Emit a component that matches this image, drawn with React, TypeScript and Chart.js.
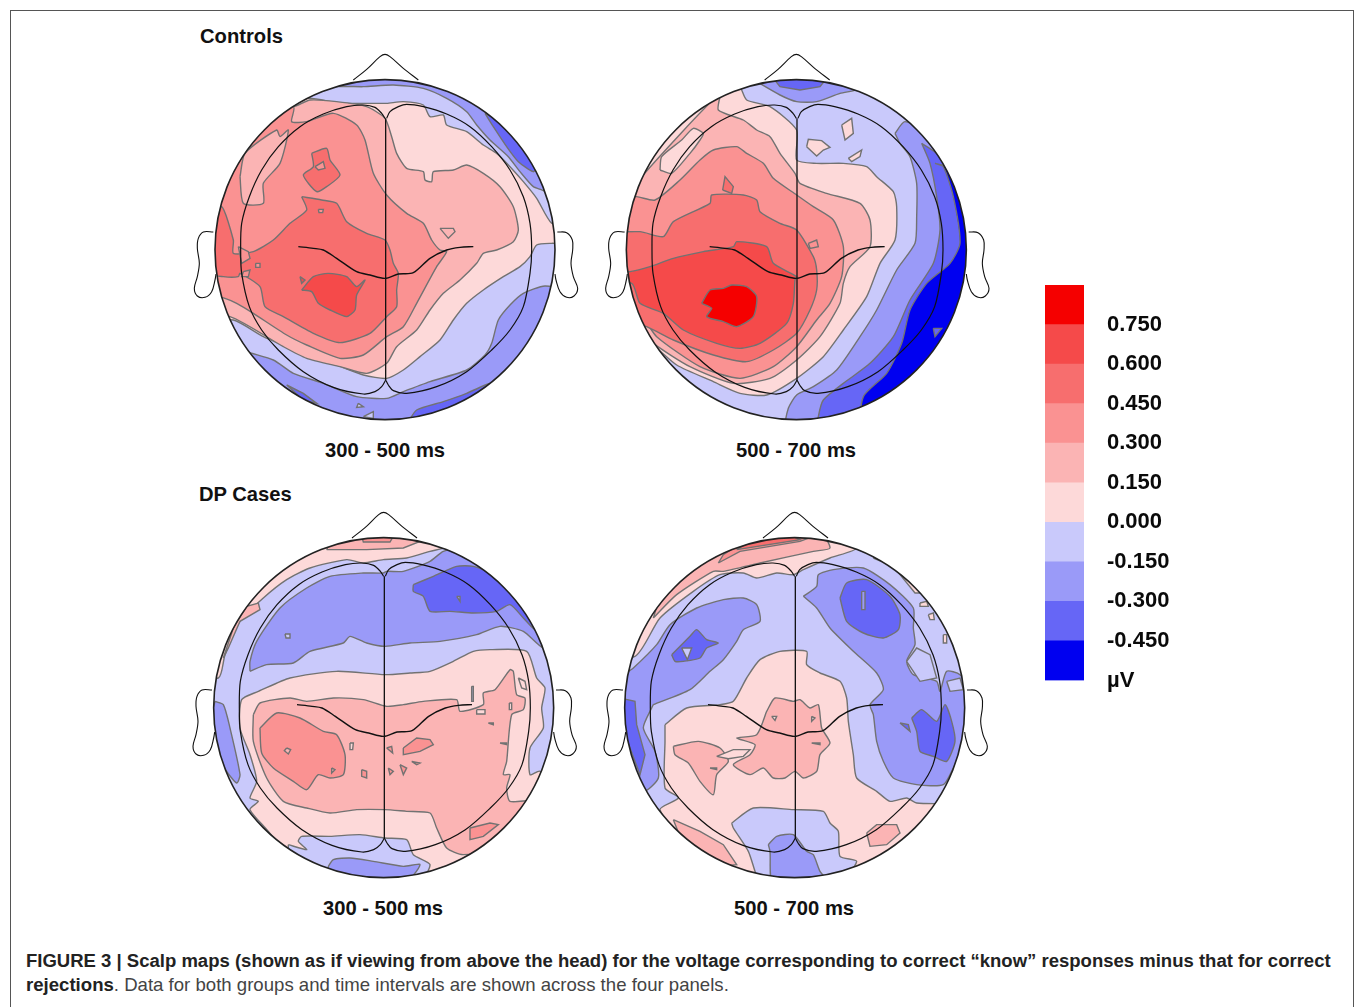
import React, { useEffect, useRef } from "react";
import { Chart, registerables } from "chart.js";

type Region = [number, number[]];

const levelColors = ["#0000f0", "#6666f6", "#9a9af8", "#c9c9fb", "#fdd9d9", "#fbb4b4", "#fa9292", "#f76e6e", "#f54a4a", "#f50000"];
const bandLower = [-0.6, -0.45, -0.3, -0.15, 0, 0.15, 0.3, 0.45, 0.6, 0.75];
const bandUpper = [-0.45, -0.3, -0.15, 0, 0.15, 0.3, 0.45, 0.6, 0.75, 0.9];
const tickValues = [0.9, 0.75, 0.6, 0.45, 0.3, 0.15, 0, -0.15, -0.3, -0.45, -0.6];
const tickLabels = ["", "0.750", "0.600", "0.450", "0.300", "0.150", "0.000", "-0.150", "-0.300", "-0.450", "µV"];

const nose = [-95, -509, -55, -541, -15, -579, 0, -586, 15, -579, 55, -544, 100, -509];
const earLeft = [-515, -53, -545, -53, -560, -34, -563, -4, -557, 41, -563, 81, -572, 116, -563, 139, -540, 143, -520, 126, -510, 91, -507, 73];
const earRight = [517, -53, 545, -51, 562, -29, 563, 1, 558, 41, 565, 81, 578, 116, 567, 139, 545, 143, 525, 126, 513, 91, 510, 73];
const lobeLeft = [0, -394, -10, -409, -30, -427, -65, -434, -115, -429, -185, -407, -255, -369, -320, -309, -370, -239, -407, -159, -430, -79, -433, 1, -430, 71, -407, 171, -370, 241, -320, 301, -245, 366, -155, 413, -65, 433, -30, 426, -10, 411, 2, 391];
const lobeRight = [5, -394, 15, -414, 40, -429, 65, -436, 115, -429, 185, -407, 255, -369, 320, -309, 375, -239, 415, -159, 435, -79, 440, 1, 435, 71, 415, 171, 375, 241, 320, 301, 245, 366, 155, 411, 65, 431, 25, 423, 10, 406, 2, 391];
const midline = [2, -394, 2, 391];
const earLine = [-260, -9, -215, -4, -185, 1, -145, 26, -85, 66, -45, 76, 0, 86, 40, 73, 85, 69, 135, 26, 185, 1, 225, -7, 265, -9];

const headRadius = 510;

const controlsEarly: Region[] = [
  [2, [-100, -100, 1300, -100, 1300, 1300, -100, 1300]],
  [1, [885, 190, 930, 215, 985, 265, 1040, 350, 1030, 365, 985, 335, 950, 290, 910, 230]],
  [1, [290, 1005, 340, 1030, 380, 1060, 340, 1050]],
  [1, [655, 1115, 680, 1080, 760, 1055, 830, 1030, 900, 1000, 840, 1050, 760, 1090, 690, 1115]],
  [3, [-50, 300, 300, 170, 385, 125, 440, 110, 520, 110, 610, 105, 700, 115, 770, 145, 830, 185, 860, 225, 900, 270, 955, 320, 990, 365, 1030, 410, 1065, 425, 1090, 480, 1200, 450, 1200, 720, 1065, 708, 1000, 730, 960, 765, 925, 810, 905, 880, 885, 915, 830, 960, 720, 995, 640, 1025, 590, 1045, 500, 1040, 400, 1000, 310, 970, 250, 930, 170, 905, -50, 820]],
  [3, [505, 1060, 520, 1070, 500, 1072]],
  [3, [520, 1100, 550, 1085, 550, 1105]],
  [4, [-50, 250, 280, 170, 355, 145, 450, 160, 540, 160, 590, 160, 640, 155, 700, 165, 720, 200, 760, 195, 770, 225, 830, 245, 880, 285, 920, 310, 960, 350, 1000, 395, 1040, 445, 1085, 520, 1150, 540, 1150, 580, 1085, 580, 1040, 585, 1020, 620, 990, 650, 940, 680, 880, 720, 830, 760, 790, 810, 750, 870, 690, 920, 640, 960, 590, 985, 520, 975, 440, 945, 350, 920, 290, 890, 220, 860, 130, 810, -50, 800]],
  [5, [-50, 200, 310, 170, 360, 150, 440, 155, 530, 170, 585, 205, 605, 260, 620, 310, 650, 355, 700, 365, 705, 390, 725, 395, 730, 365, 790, 360, 830, 345, 880, 370, 930, 410, 970, 470, 985, 540, 970, 575, 920, 600, 880, 610, 860, 640, 810, 690, 760, 730, 720, 780, 680, 840, 620, 890, 590, 940, 530, 970, 450, 950, 350, 925, 280, 890, 120, 800, -50, 780]],
  [6, [-50, 100, 310, 170, 305, 215, 350, 215, 430, 190, 500, 225, 525, 270, 550, 370, 590, 435, 650, 490, 700, 520, 725, 570, 750, 600, 770, 605, 740, 650, 680, 760, 640, 830, 590, 860, 520, 915, 450, 925, 350, 885, 290, 855, 190, 790, 140, 760, 105, 745, -50, 700]],
  [5, [150, 380, 165, 310, 260, 240, 270, 260, 295, 240, 270, 340, 220, 400, 220, 460, 160, 460]],
  [5, [750, 535, 790, 535, 795, 545, 775, 565]],
  [7, [335, 440, 395, 450, 440, 460, 470, 515, 530, 550, 585, 570, 600, 600, 610, 640, 625, 670, 620, 720, 620, 770, 590, 800, 540, 850, 450, 878, 370, 850, 280, 800, 225, 770, 210, 710, 150, 670, 145, 680, 100, 680, 60, 670, 60, 530, 95, 470, 130, 570, 130, 610, 190, 605, 250, 570, 300, 520, 350, 480]],
  [6, [145, 590, 175, 605, 180, 625, 155, 640]],
  [6, [197, 640, 210, 640, 210, 652, 197, 652]],
  [6, [160, 665, 180, 660, 175, 680, 155, 680]],
  [6, [385, 478, 400, 478, 398, 488, 387, 488]],
  [7, [365, 310, 410, 295, 420, 330, 450, 375, 410, 410, 380, 425, 340, 375, 370, 350]],
  [6, [375, 350, 400, 335, 405, 355, 385, 360]],
  [8, [335, 720, 370, 680, 415, 670, 470, 680, 500, 710, 525, 690, 500, 735, 495, 780, 470, 800, 420, 780, 385, 760, 365, 725]],
  [8, [330, 680, 345, 690, 335, 700]],
];

const controlsLate: Region[] = [
  [3, [-100, -100, 1300, -100, 1300, 1300, -100, 1300]],
  [2, [470, 95, 540, 135, 590, 155, 650, 155, 720, 130, 780, 115, 700, 60, 500, 60]],
  [1, [520, 85, 680, 85, 660, 110, 600, 120, 540, 110]],
  [2, [885, 250, 915, 215, 1000, 260, 1200, 500, 1200, 900, 900, 1130, 560, 1130, 565, 1075, 590, 1035, 640, 1010, 710, 960, 780, 860, 830, 780, 890, 660, 945, 580, 950, 500, 950, 400, 930, 320, 900, 280]],
  [1, [965, 280, 1010, 310, 1200, 500, 1200, 900, 900, 1130, 655, 1130, 655, 1100, 670, 1050, 730, 1000, 810, 940, 880, 860, 930, 750, 1000, 640, 1020, 540, 1010, 440, 990, 340]],
  [0, [1005, 340, 1030, 350, 1060, 440, 1080, 580, 1050, 640, 980, 700, 930, 780, 905, 880, 860, 970, 790, 1040, 790, 1130, 1200, 1000, 1200, 400]],
  [1, [1000, 835, 1025, 835, 1005, 860]],
  [4, [-50, 300, 400, 100, 420, 110, 440, 150, 510, 170, 590, 240, 590, 330, 650, 340, 730, 340, 800, 350, 830, 380, 880, 425, 890, 470, 885, 570, 840, 640, 800, 740, 730, 840, 670, 920, 590, 985, 500, 1035, 420, 1030, 340, 995, 230, 945, 150, 880, -50, 800]],
  [5, [-50, 430, 100, 430, 125, 380, 360, 130, 355, 180, 430, 210, 470, 240, 510, 260, 540, 310, 585, 370, 600, 400, 680, 430, 780, 460, 810, 510, 810, 590, 750, 650, 730, 700, 720, 760, 660, 860, 590, 930, 510, 985, 400, 1000, 270, 950, 160, 880, 110, 830, -50, 800]],
  [4, [180, 360, 185, 320, 245, 270, 280, 235, 310, 250, 300, 270, 270, 310, 215, 370]],
  [6, [-50, 440, 110, 440, 165, 450, 240, 390, 300, 330, 340, 300, 410, 290, 440, 310, 490, 340, 520, 385, 590, 435, 640, 470, 700, 510, 730, 590, 725, 680, 690, 760, 650, 810, 590, 890, 520, 950, 420, 985, 300, 950, 170, 860, 125, 800, -50, 700]],
  [7, [-50, 550, 120, 545, 190, 560, 220, 515, 330, 460, 335, 435, 430, 435, 470, 450, 480, 485, 540, 520, 590, 540, 640, 620, 650, 660, 650, 720, 630, 780, 590, 850, 520, 900, 440, 935, 340, 915, 220, 870, 140, 830, -50, 760]],
  [6, [625, 580, 650, 570, 655, 590, 630, 595]],
  [8, [-50, 680, 90, 665, 150, 650, 220, 625, 310, 605, 400, 590, 410, 575, 500, 590, 520, 640, 590, 680, 585, 690, 580, 760, 560, 820, 480, 880, 420, 895, 350, 880, 250, 840, 190, 790, 120, 760, 95, 700]],
  [7, [368, 420, 375, 380, 400, 410, 395, 430]],
  [9, [305, 760, 330, 720, 370, 715, 395, 705, 440, 710, 470, 740, 460, 800, 410, 830, 370, 815, 320, 800, 335, 775]],
  [4, [725, 225, 755, 205, 760, 250, 735, 270]],
  [4, [745, 325, 785, 300, 780, 320, 755, 335]],
  [4, [620, 290, 625, 268, 665, 272, 690, 292, 670, 300, 650, 318]],
];

const casesEarly: Region[] = [
  [3, [-100, -100, 1300, -100, 1300, 1300, -100, 1300]],
  [4, [-50, 500, 85, 510, 105, 440, 150, 340, 220, 270, 290, 215, 360, 180, 470, 155, 520, 165, 580, 155, 650, 150, 720, 130, 770, 115, 700, 60, 400, 60, -50, 300]],
  [5, [410, 125, 530, 125, 640, 120, 690, 100, 600, 80, 420, 100]],
  [6, [515, 85, 610, 85, 600, 102, 520, 102]],
  [5, [100, 450, 130, 360, 170, 295, 205, 285, 210, 305, 150, 340, 115, 420]],
  [2, [180, 490, 180, 460, 200, 400, 270, 300, 350, 240, 420, 205, 520, 195, 580, 195, 590, 190, 640, 190, 720, 160, 760, 130, 830, 115, 900, 150, 1100, 400, 1060, 420, 1000, 370, 930, 355, 860, 380, 750, 400, 660, 405, 585, 415, 530, 405, 480, 385, 460, 405, 360, 430, 310, 465, 230, 470]],
  [3, [285, 378, 300, 378, 300, 390, 288, 390]],
  [1, [670, 230, 730, 205, 800, 175, 850, 175, 900, 195, 1010, 300, 1040, 370, 1000, 330, 960, 290, 920, 310, 850, 315, 780, 310, 720, 310, 700, 265, 670, 250]],
  [2, [800, 265, 810, 265, 810, 280]],
  [2, [75, 580, 100, 590, 120, 660, 150, 800, 140, 825, 110, 790, 60, 700, 60, 640]],
  [4, [205, 550, 300, 510, 440, 490, 585, 500, 660, 495, 720, 490, 790, 460, 850, 430, 900, 425, 1010, 430, 1040, 510, 1065, 540, 1055, 600, 1060, 660, 1020, 720, 1020, 800, 1050, 790, 1100, 880, 770, 1130, 300, 1130, 250, 990, 180, 905, 205, 880, 180, 870, 200, 820, 180, 740, 150, 660, 155, 575]],
  [3, [845, 535, 850, 535, 850, 580, 845, 580]],
  [3, [295, 1010, 350, 1025, 325, 1000, 335, 985, 420, 985, 510, 980, 585, 990, 650, 995, 670, 1040, 720, 1070, 680, 1130, 300, 1130]],
  [2, [415, 1075, 430, 1055, 480, 1050, 550, 1060, 640, 1075, 690, 1070, 640, 1130, 480, 1130, 415, 1090]],
  [5, [190, 620, 210, 585, 300, 570, 350, 580, 430, 570, 520, 575, 590, 595, 640, 590, 700, 580, 800, 575, 810, 610, 880, 590, 880, 555, 915, 545, 960, 485, 970, 490, 980, 560, 1005, 570, 1000, 605, 965, 620, 950, 760, 940, 800, 960, 800, 950, 840, 960, 880, 1040, 880, 960, 1010, 820, 1040, 770, 1020, 740, 960, 720, 915, 650, 910, 585, 905, 500, 905, 420, 915, 350, 900, 280, 880, 230, 810, 190, 700]],
  [4, [985, 510, 1005, 520, 1010, 545, 995, 540]],
  [4, [860, 605, 885, 605, 885, 618, 860, 618]],
  [4, [895, 645, 910, 645, 910, 650]],
  [4, [930, 705, 950, 705, 950, 710]],
  [4, [958, 585, 965, 585, 965, 605, 958, 605]],
  [4, [480, 705, 490, 705, 488, 725, 480, 725]],
  [6, [210, 660, 260, 615, 330, 630, 400, 670, 440, 680, 465, 740, 460, 800, 420, 810, 385, 800, 350, 845, 310, 820, 250, 780, 215, 735]],
  [5, [290, 720, 302, 725, 295, 738, 283, 728]],
  [5, [425, 780, 435, 785, 425, 795]],
  [6, [640, 720, 680, 690, 720, 695, 730, 710, 690, 730, 640, 740]],
  [6, [840, 960, 900, 945, 925, 950, 880, 985, 840, 995]],
  [6, [590, 720, 605, 715, 608, 735]],
  [6, [595, 780, 610, 790, 600, 800]],
  [6, [630, 770, 650, 780, 640, 800]],
  [6, [665, 760, 690, 765, 680, 770]],
  [6, [515, 785, 530, 790, 530, 810, 515, 805]],
];

const casesLate: Region[] = [
  [3, [-100, -100, 1300, -100, 1300, 1300, -100, 1300]],
  [4, [-50, 440, 105, 445, 180, 330, 280, 250, 360, 200, 430, 195, 470, 210, 530, 195, 580, 200, 610, 185, 690, 150, 770, 120, 700, 60, 300, 60]],
  [4, [820, 150, 880, 175, 945, 255, 960, 255, 900, 160]],
  [5, [160, 330, 230, 260, 340, 190, 370, 190, 480, 165, 640, 130, 690, 120, 650, 60, 450, 60, 200, 220]],
  [6, [355, 165, 420, 130, 600, 100, 640, 85, 480, 70, 370, 140]],
  [7, [410, 125, 600, 95, 540, 70, 470, 90]],
  [4, [195, 650, 260, 600, 360, 590, 400, 580, 440, 510, 480, 455, 540, 430, 620, 430, 620, 470, 660, 495, 720, 520, 740, 570, 745, 640, 760, 740, 770, 810, 830, 850, 870, 880, 920, 870, 950, 885, 1100, 900, 980, 1130, 470, 1130, 300, 1050, 180, 905, 235, 870, 195, 840, 195, 700]],
  [5, [220, 935, 300, 970, 370, 1010, 410, 1070, 350, 1075, 250, 1010]],
  [3, [395, 945, 460, 900, 580, 905, 670, 910, 690, 945, 715, 970, 720, 1045, 770, 1060, 710, 1130, 480, 1130, 465, 1090, 445, 1030, 400, 960]],
  [2, [505, 1010, 530, 985, 580, 980, 620, 1030, 640, 1040, 660, 1090, 690, 1130, 520, 1130, 510, 1030]],
  [2, [160, 590, 270, 545, 330, 490, 370, 455, 410, 400, 430, 365, 480, 340, 470, 290, 430, 270, 370, 275, 290, 300, 210, 350, 170, 410, 100, 480, 50, 520, 50, 760, 130, 850, 175, 810, 165, 730, 130, 660, 155, 600]],
  [1, [60, 570, 105, 580, 110, 650, 135, 740, 120, 800, 90, 720, 60, 640]],
  [1, [215, 440, 270, 385, 290, 365, 320, 395, 355, 405, 320, 420, 300, 450, 250, 460, 225, 460]],
  [3, [245, 420, 275, 420, 262, 455]],
  [2, [610, 265, 650, 235, 655, 200, 700, 185, 790, 180, 870, 230, 940, 300, 940, 360, 945, 410, 920, 460, 940, 500, 1010, 520, 1020, 550, 1040, 490, 1080, 500, 1120, 560, 1120, 680, 1060, 780, 1030, 830, 950, 830, 880, 810, 850, 760, 830, 700, 820, 620, 810, 590, 850, 545, 830, 495, 760, 430, 690, 360, 650, 300]],
  [3, [1040, 520, 1080, 510, 1090, 545, 1050, 550]],
  [1, [720, 270, 740, 225, 800, 215, 870, 265, 900, 320, 895, 365, 850, 390, 790, 375, 740, 340]],
  [2, [785, 250, 795, 250, 795, 305, 785, 305]],
  [1, [935, 630, 965, 605, 1010, 640, 1035, 590, 1055, 640, 1065, 700, 1040, 760, 1000, 745, 960, 730, 950, 670]],
  [1, [900, 645, 925, 650, 930, 670]],
  [5, [500, 610, 525, 570, 580, 580, 600, 575, 630, 600, 655, 590, 665, 660, 690, 705, 660, 740, 650, 790, 610, 810, 585, 790, 555, 810, 520, 810, 490, 780, 450, 800, 400, 770, 450, 740, 465, 710, 410, 690, 470, 680]],
  [4, [515, 625, 530, 625, 525, 637]],
  [4, [635, 625, 645, 630, 635, 640]],
  [4, [635, 705, 660, 705, 660, 710]],
  [5, [220, 715, 295, 700, 360, 720, 385, 760, 350, 800, 340, 860, 300, 820, 265, 765, 225, 740]],
  [4, [350, 745, 400, 725, 450, 725, 430, 745, 385, 752]],
  [4, [330, 780, 350, 780, 350, 785]],
  [5, [800, 975, 830, 950, 890, 950, 900, 975, 860, 1010, 810, 1015]],
  [3, [920, 460, 950, 420, 990, 440, 1010, 510, 960, 520]],
  [4, [960, 285, 980, 280, 985, 295, 960, 295]],
  [4, [985, 320, 1000, 315, 1003, 335, 990, 335]],
  [4, [1030, 380, 1040, 380, 1040, 405, 1030, 405]],
];

const scalpClip = {
  id: "scalpClip",
  beforeDatasetDraw(chart: any, args: any) {
    const head = chart.data.datasets[args.index].head;
    if (!head) return;
    const { x, y } = chart.scales;
    const ctx = chart.ctx;
    ctx.save();
    ctx.beginPath();
    ctx.arc(x.getPixelForValue(head[0]), y.getPixelForValue(head[1]), x.getPixelForValue(head[0] + headRadius) - x.getPixelForValue(head[0]), 0, Math.PI * 2);
    ctx.clip();
  },
  afterDatasetDraw(chart: any, args: any) {
    if (chart.data.datasets[args.index].head) chart.ctx.restore();
  },
};

// Registered before the library's plugins so the clip is active when the filler paints.
Chart.register(scalpClip as any);
Chart.register(...registerables);

const toPoints = (flat: number[], dx = 0, dy = 0) => {
  const out: { x: number; y: number }[] = [];
  for (let i = 0; i < flat.length; i += 2) out.push({ x: flat[i] + dx, y: flat[i + 1] + dy });
  return out;
};

function Panel({ regions, center, left, top }: { regions: Region[]; center: number[]; left: number; top: number }) {
  const ref = useRef<HTMLCanvasElement>(null);
  useEffect(() => {
    const [cx, cy] = center;
    const fills = regions.map(([level, flat]) => {
      const pts = toPoints(flat);
      pts.push(pts[0]);
      return {
        data: pts,
        showLine: true,
        fill: "shape",
        backgroundColor: levelColors[level],
        borderColor: "#727272",
        borderWidth: 1.4,
        pointRadius: 0,
        tension: pts.length > 8 ? 0.22 : 0,
        head: center,
      };
    });
    const outline = (flat: number[], tension = 0.35, width = 1.1) => ({
      data: toPoints(flat, cx, cy),
      showLine: true,
      fill: false,
      borderColor: "#111111",
      borderWidth: width,
      pointRadius: 0,
      tension,
    });
    const all: any[] = [
      ...fills,
      outline(lobeLeft, 0.3, 1.2),
      outline(lobeRight, 0.3, 1.2),
      outline(midline, 0, 1.3),
      outline(earLine, 0.3, 1.4),
      outline(nose),
      outline(earLeft),
      outline(earRight),
      {
        data: [{ x: cx, y: cy }],
        showLine: false,
        pointRadius: headRadius / 3,
        pointHoverRadius: headRadius / 3,
        pointBackgroundColor: "rgba(0,0,0,0)",
        pointBorderColor: "#222222",
        pointBorderWidth: 1.6,
        clip: false,
      },
    ];
    all.forEach((d, i) => (d.order = all.length - i));
    const chart = new Chart(ref.current!, {
      type: "scatter",
      data: { datasets: all },
      options: {
        animation: false,
        responsive: false,
        events: [],
        layout: { padding: 0, autoPadding: false },
        plugins: { legend: { display: false }, tooltip: { enabled: false } },
        scales: {
          x: { type: "linear", display: false, min: 0, max: 1185 },
          y: { type: "linear", display: false, min: 0, max: 1125, reverse: true },
        },
      },
    } as any);
    return () => chart.destroy();
  }, [regions, center]);
  return <canvas ref={ref} width={395} height={375} style={{ position: "absolute", left, top, width: 395, height: 375, filter: "blur(0.4px)" }} />;
}

function ColorBar() {
  const ref = useRef<HTMLCanvasElement>(null);
  useEffect(() => {
    const chart = new Chart(ref.current!, {
      type: "bar",
      data: {
        labels: ["µV"],
        datasets: bandLower.map((low, i) => ({
          data: [[low, bandUpper[i]]],
          backgroundColor: levelColors[i],
          borderWidth: 0,
          barPercentage: 1,
          categoryPercentage: 1,
          grouped: false,
        })),
      },
      options: {
        animation: false,
        responsive: false,
        events: [],
        layout: { autoPadding: false, padding: { top: 15, bottom: 19.5, left: 0, right: 0 } },
        plugins: { legend: { display: false }, tooltip: { enabled: false } },
        scales: {
          x: { display: false, offset: true },
          y: {
            position: "right",
            min: -0.6,
            max: 0.9,
            grid: { display: false, drawTicks: false },
            border: { display: false },
            afterFit: (s: any) => {
              s.width = 106;
              s.paddingTop = 0;
              s.paddingBottom = 0;
            },
            afterBuildTicks: (s: any) => {
              s.ticks = tickValues.map((value) => ({ value }));
            },
            ticks: {
              autoSkip: false,
              padding: 23,
              color: "#0a0a0a",
              font: { family: "'Liberation Sans'", size: 22, weight: "bold" },
              callback: (_v: any, i: number) => tickLabels[i],
            },
          },
        },
      },
    } as any);
    return () => chart.destroy();
  }, []);
  return <canvas ref={ref} width={145} height={430} style={{ position: "absolute", left: 1045, top: 270, width: 145, height: 430 }} />;
}

const labelStyle = (left: number, top: number): React.CSSProperties => ({
  position: "absolute",
  left,
  top,
  font: "bold 20.2px/24px 'Liberation Sans'",
  color: "#111",
  whiteSpace: "nowrap",
});

export default function App() {
  return (
    <div style={{ position: "fixed", left: 0, top: 0, width: 1355, height: 1007, overflow: "hidden", background: "#fff" }}>
      <div style={{ position: "absolute", left: 10, top: 10, width: 1342, height: 1100, border: "1px solid #555" }} />
      <Panel regions={controlsEarly} center={[585, 599]} left={190} top={50} />
      <Panel regions={controlsLate} center={[589, 599]} left={600} top={50} />
      <Panel regions={casesEarly} center={[581, 599]} left={190} top={508} />
      <Panel regions={casesLate} center={[584, 599]} left={600} top={508} />
      <ColorBar />
      <div style={labelStyle(200, 24)}>Controls</div>
      <div style={labelStyle(325, 438)}>300 - 500 ms</div>
      <div style={labelStyle(736, 438)}>500 - 700 ms</div>
      <div style={labelStyle(199, 482)}>DP Cases</div>
      <div style={labelStyle(323, 896)}>300 - 500 ms</div>
      <div style={labelStyle(734, 896)}>500 - 700 ms</div>
      <div style={{ position: "absolute", left: 26, top: 950, font: "bold 18.53px/22px 'Liberation Sans'", color: "#222", whiteSpace: "nowrap" }}>
        FIGURE 3 | Scalp maps (shown as if viewing from above the head) for the voltage corresponding to correct “know” responses minus that for correct
      </div>
      <div style={{ position: "absolute", left: 26, top: 974, font: "18.6px/22px 'Liberation Sans'", color: "#444", whiteSpace: "nowrap" }}>
        <b style={{ color: "#222" }}>rejections</b>. Data for both groups and time intervals are shown across the four panels.
      </div>
    </div>
  );
}
